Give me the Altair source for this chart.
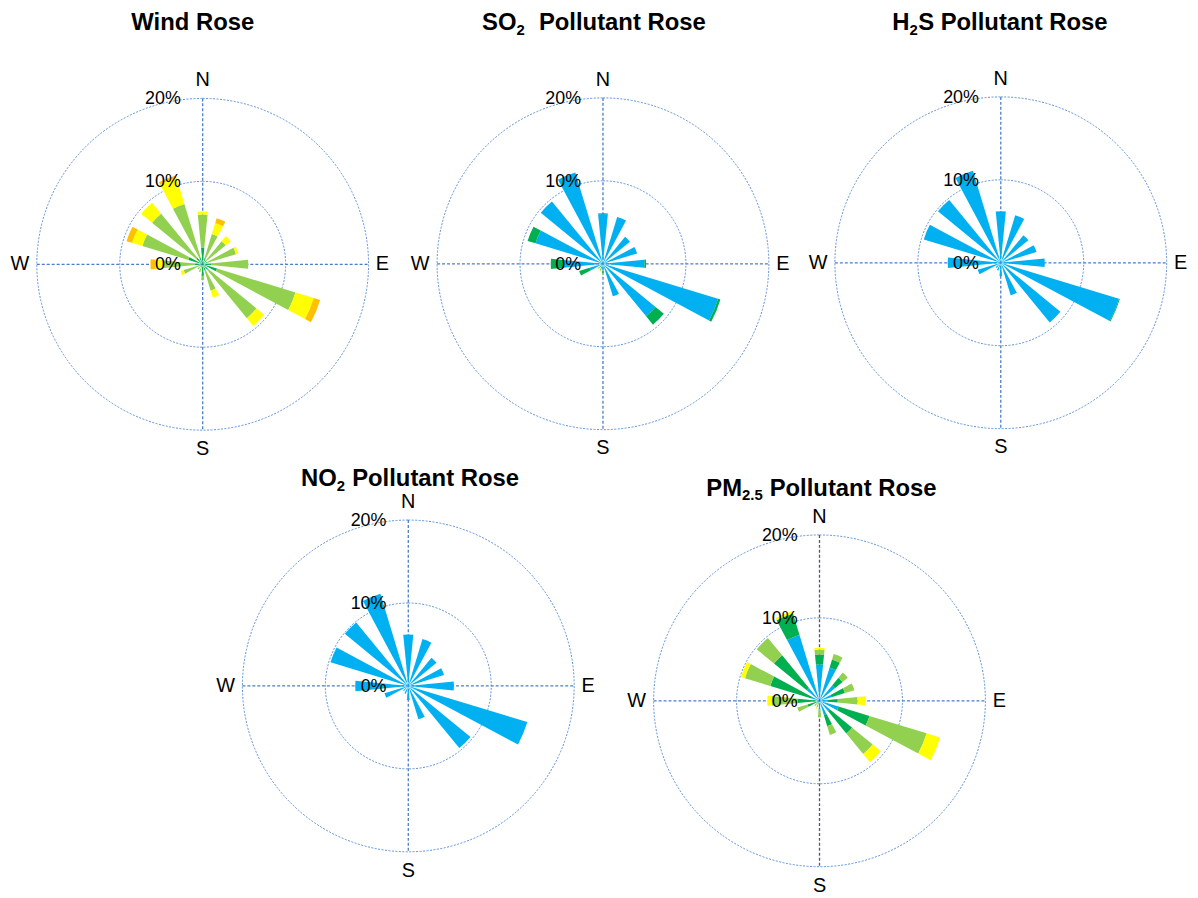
import math
import altair as alt
import pandas as pd

# ---------------- data ----------------
DIRECTIONS = ["N", "NNE", "NE", "ENE", "E", "ESE", "SE", "SSE",
              "S", "SSW", "SW", "WSW", "W", "WNW", "NW", "NNW"]
DIR_ANGLES = [0.0, 22.5, 45.0, 67.5, 90.0, 112.5, 135.0, 157.5,
              180.0, 202.5, 225.0, 247.5, 270.0, 292.5, 315.0, 337.5]
BINS = ["Bin 1", "Bin 2", "Bin 3", "Bin 4", "Bin 5"]
BIN_COLORS = ["#00B0F0", "#00B050", "#92D050", "#FFFF00", "#FFC000"]

RING_LEVELS = [10, 20]
PCT_LEVELS = [20, 10, 0]
PCT_TEXT = ["20%", "10%", "0%"]
COMPASS = ["N", "E", "S", "W"]

ROSES = ["Wind", "SO2", "H2S", "NO2", "PM2.5"]
# title split into: text before subscript, subscript, text after subscript
TITLE_PRE = ["", "SO", "H", "NO", "PM"]
TITLE_SUB = ["", "2", "2", "2", "2.5"]
TITLE_POST = ["Wind Rose", "Pollutant Rose", "S Pollutant Rose", "Pollutant Rose", "Pollutant Rose"]

# Wind Rose (segment lengths, % of time)
WIND_BLUE = [0, 0, 0, 0, 0, 0, 0, 0, 0, 0, 0, 0, 0, 0, 0, 0]
WIND_DKGREEN = [2.0, 0.8, 0.6, 0.6, 1.0, 1.8, 0.8, 0.8, 1.4, 0.4, 0.3, 0.6, 1.0, 1.8, 1.0, 0.8]
WIND_LTGREEN = [4.0, 3.0, 3.0, 3.6, 4.5, 9.9, 7.6, 2.5, 0.5, 0.6, 0.5, 1.8, 3.7, 5.8, 6.9, 6.8]
WIND_YELLOW = [0.35, 1.4, 0.8, 0.3, 0, 2.3, 1.2, 0.9, 0, 0, 0, 0.4, 1.0, 1.3, 1.7, 3.3]
WIND_ORANGE = [0, 0.6, 0, 0, 0, 0.8, 0, 0, 0, 0, 0, 0, 0.6, 0.7, 0, 0.3]

# SO2 Pollutant Rose
SO2_BLUE = [6.0, 5.9, 4.2, 4.3, 5.0, 14.5, 8.2, 4.1, 0.8, 0.4, 0.3, 1.7, 4.8, 8.5, 9.7, 11.5]
SO2_DKGREEN = [0.1, 0, 0, 0, 0.2, 0.3, 1.3, 0, 0.3, 0.2, 0.2, 1.3, 1.5, 1.0, 0, 0]
SO2_LTGREEN = [0, 0, 0, 0, 0, 0, 0, 0, 0.2, 0.3, 0.3, 0, 0, 0, 0, 0]
SO2_YELLOW = [0, 0, 0, 0, 0, 0, 0, 0, 0, 0.1, 0, 0, 0, 0, 0, 0]
SO2_ORANGE = [0, 0, 0, 0, 0, 0, 0, 0, 0, 0, 0, 0, 0, 0, 0, 0]

# H2S Pollutant Rose
H2S_BLUE = [6.2, 6.0, 4.3, 4.5, 5.3, 14.9, 9.3, 4.1, 1.6, 1.0, 0.8, 2.9, 6.4, 9.7, 9.8, 11.6]
H2S_DKGREEN = [0, 0, 0, 0, 0, 0.1, 0, 0, 0, 0, 0, 0, 0, 0, 0, 0]
H2S_LTGREEN = [0, 0, 0, 0, 0, 0, 0, 0, 0, 0, 0, 0, 0, 0, 0, 0]
H2S_YELLOW = [0, 0, 0, 0, 0, 0, 0, 0, 0, 0, 0, 0, 0, 0, 0, 0]
H2S_ORANGE = [0, 0, 0, 0, 0, 0, 0, 0, 0, 0, 0, 0, 0, 0, 0, 0]

# NO2 Pollutant Rose
NO2_BLUE = [6.2, 5.9, 4.4, 4.5, 5.5, 15.0, 9.7, 4.2, 1.7, 1.0, 0.8, 3.0, 6.4, 9.8, 9.9, 11.6]
NO2_DKGREEN = [0, 0, 0, 0, 0, 0, 0, 0, 0, 0, 0, 0, 0, 0, 0, 0]
NO2_LTGREEN = [0, 0, 0, 0, 0, 0, 0, 0, 0, 0, 0, 0, 0, 0, 0, 0]
NO2_YELLOW = [0, 0, 0, 0, 0, 0, 0, 0, 0, 0, 0, 0, 0, 0, 0, 0]
NO2_ORANGE = [0, 0, 0, 0, 0, 0, 0, 0, 0, 0, 0, 0, 0, 0, 0, 0]

# PM2.5 Pollutant Rose
PM_BLUE = [4.4, 4.2, 2.4, 1.5, 1.0, 2.4, 1.6, 1.8, 1.0, 0.2, 0.2, 0.3, 0.5, 1.0, 2.0, 8.3]
PM_DKGREEN = [1.2, 1.0, 1.2, 1.7, 1.2, 3.9, 3.5, 1.4, 0, 0.2, 0.2, 1.2, 2.1, 5.2, 5.1, 2.7]
PM_LTGREEN = [0.6, 0.7, 0.8, 1.2, 2.4, 7.2, 3.2, 1.1, 1.0, 0.4, 0.4, 1.3, 3.2, 3.2, 2.7, 0]
PM_YELLOW = [0.2, 0, 0, 0, 1.0, 1.7, 1.3, 0, 0, 0.2, 0, 0, 0.5, 0.5, 0, 0.3]
PM_ORANGE = [0, 0, 0, 0, 0, 0, 0, 0, 0, 0, 0, 0, 0, 0, 0, 0]

SERIES = {
    "Wind": (WIND_BLUE, WIND_DKGREEN, WIND_LTGREEN, WIND_YELLOW, WIND_ORANGE),
    "SO2": (SO2_BLUE, SO2_DKGREEN, SO2_LTGREEN, SO2_YELLOW, SO2_ORANGE),
    "H2S": (H2S_BLUE, H2S_DKGREEN, H2S_LTGREEN, H2S_YELLOW, H2S_ORANGE),
    "NO2": (NO2_BLUE, NO2_DKGREEN, NO2_LTGREEN, NO2_YELLOW, NO2_ORANGE),
    "PM2.5": (PM_BLUE, PM_DKGREEN, PM_LTGREEN, PM_YELLOW, PM_ORANGE),
}

# ---------------- layout & styling ----------------
W, H = 1190, 890
FONT = "Liberation Sans, Arial, Helvetica, sans-serif"
GRID = "#4A7EC9"
RING = "#5B8FD8"
GRID_DARK = "#4A5878"
R_PX = 167          # pixel radius of the 20% ring
HALF = 5.625        # half of wedge angular width (deg)
CENTER_X = {"Wind": 196, "SO2": 599, "H2S": 999.5, "NO2": 403, "PM2.5": 817}
CENTER_Y = {"Wind": 255, "SO2": 254.5, "H2S": 253.5, "NO2": 679.5, "PM2.5": 694.5}
# title anchor: x where the subscript starts (centre for the plain title), baseline y
TITLE_X = {"Wind": 186, "SO2": 512, "H2S": 907.5, "NO2": 331, "PM2.5": 739}
TITLE_Y = {"Wind": 19.5, "SO2": 19.5, "H2S": 19.5, "NO2": 478.7, "PM2.5": 488}
POST_DX = {"Wind": 0, "SO2": 22.5, "H2S": 8.8, "NO2": 15.5, "PM2.5": 27.8}
TITLE_SIZE = 24
SUB_SIZE = 15
SUB_DY = 4.6
COMPASS_DX = [0, 181, 0, -184]
COMPASS_DY = [-185, 0, 186, 0]
PCT_DX = -22

# ---------------- frames ----------------
bar_rows, ring_rows, v_rows, h_rows, comp_rows, pct_rows = [], [], [], [], [], []
pre_rows, sub_rows, post_rows, plain_rows = [], [], [], []
for rose, pre, sub, post in zip(ROSES, TITLE_PRE, TITLE_SUB, TITLE_POST):
    cx, cy = CENTER_X[rose], CENTER_Y[rose]
    for i, (d, a) in enumerate(zip(DIRECTIONS, DIR_ANGLES)):
        base = 0.0
        for b, s in zip(BINS, SERIES[rose]):
            v = s[i]
            if v > 0:
                bar_rows.append({"rose": rose, "dir": d, "angle": a, "bin": b,
                                 "r0": base, "r1": base + v, "cx": cx, "cy": cy})
                base += v
    for lv in RING_LEVELS:
        ring_rows.append({"rose": rose, "level": lv, "cx": cx, "cy": cy})
    v_rows.append({"rose": rose, "x": cx, "y1": cy - R_PX, "y2": cy + R_PX})
    h_rows.append({"rose": rose, "y": cy, "x1": cx - R_PX, "x2": cx + R_PX})
    for lab, dx, dy in zip(COMPASS, COMPASS_DX, COMPASS_DY):
        comp_rows.append({"lab": lab, "x": cx + dx, "y": cy + dy})
    for lv, pl in zip(PCT_LEVELS, PCT_TEXT):
        pct_rows.append({"pl": pl, "x": cx + PCT_DX, "y": cy - lv * R_PX / 20 + 1})
    tx, ty = TITLE_X[rose], TITLE_Y[rose]
    if sub:
        pre_rows.append({"t": pre, "x": tx, "y": ty})
        sub_rows.append({"t": sub, "x": tx, "y": ty + SUB_DY})
        post_rows.append({"t": post, "x": tx + POST_DX[rose], "y": ty})
    else:
        plain_rows.append({"t": post, "x": tx, "y": ty})

bars_df = pd.DataFrame(bar_rows)
rings_df = pd.DataFrame(ring_rows)
v_df = pd.DataFrame(v_rows)
h_df = pd.DataFrame(h_rows)
comp_df = pd.DataFrame(comp_rows)
pct_df = pd.DataFrame(pct_rows)

# ---------------- scales ----------------
xs = alt.Scale(domain=[0, W], range=[0, W], nice=False, zero=False)
ys = alt.Scale(domain=[0, H], range=[0, H], nice=False, zero=False)
rs = alt.Scale(type="linear", domain=[0, 20], range=[0, R_PX], zero=True, nice=False)
ts = alt.Scale(type="linear", domain=[0, 360], range=[0, 2 * math.pi], zero=False, nice=False)
X = lambda f: alt.X(f, scale=xs, axis=None)
Y = lambda f: alt.Y(f, scale=ys, axis=None)

rings = alt.Chart(rings_df).mark_arc(
    filled=False, stroke=RING, strokeWidth=1, strokeDash=[2, 1.5]
).encode(
    theta=alt.value(0), theta2=alt.value(2 * math.pi),
    radius=alt.Radius("level:Q", scale=rs, stack=None),
    x=X("cx:Q"), y=Y("cy:Q"),
)

vlines = alt.Chart(v_df).transform_filter("datum.rose != 'PM2.5'").mark_rule(
    color=GRID, strokeWidth=1.3, strokeDash=[3, 2]
).encode(x=X("x:Q"), y=Y("y1:Q"), y2="y2:Q")
vline_pm = alt.Chart(v_df).transform_filter("datum.rose == 'PM2.5'").mark_rule(
    color=GRID_DARK, strokeWidth=1.3, strokeDash=[3, 2]
).encode(x=X("x:Q"), y=Y("y1:Q"), y2="y2:Q")
hlines = alt.Chart(h_df).mark_rule(color=GRID, strokeWidth=1.3, strokeDash=[3, 2]).encode(
    y=Y("y:Q"), x=X("x1:Q"), x2="x2:Q"
)

bars = alt.Chart(bars_df).transform_calculate(
    t0=f"datum.angle - {HALF}", t1=f"datum.angle + {HALF}"
).mark_arc().encode(
    theta=alt.Theta("t0:Q", scale=ts, stack=None),
    theta2="t1:Q",
    radius=alt.Radius("r1:Q", scale=rs, stack=None),
    radius2="r0:Q",
    color=alt.Color("bin:N", scale=alt.Scale(domain=BINS, range=BIN_COLORS), legend=None),
    x=X("cx:Q"), y=Y("cy:Q"),
)

comp = alt.Chart(comp_df).mark_text(
    font=FONT, fontSize=20, align="center", baseline="middle", color="black"
).encode(x=X("x:Q"), y=Y("y:Q"), text="lab:N")

pct = alt.Chart(pct_df).mark_text(
    font=FONT, fontSize=18, align="right", baseline="middle", color="black"
).encode(x=X("x:Q"), y=Y("y:Q"), text="pl:N")


def title_layer(rows, align, size):
    return alt.Chart(pd.DataFrame(rows)).mark_text(
        font=FONT, fontSize=size, fontWeight="bold", align=align,
        baseline="alphabetic", color="black"
    ).encode(x=X("x:Q"), y=Y("y:Q"), text="t:N")


t_plain = title_layer(plain_rows, "center", TITLE_SIZE)
t_pre = title_layer(pre_rows, "right", TITLE_SIZE)
t_sub = title_layer(sub_rows, "left", SUB_SIZE)
t_post = title_layer(post_rows, "left", TITLE_SIZE)

chart = alt.layer(
    rings, vlines, vline_pm, hlines, bars, comp, pct, t_plain, t_pre, t_sub, t_post
).properties(
    width=W, height=H,
    autosize=alt.AutoSizeParams(type="none"),
    padding=0,
    background="white",
).configure_view(stroke=None)

chart.save("out.html", embed_options={"renderer": "svg", "actions": False})
